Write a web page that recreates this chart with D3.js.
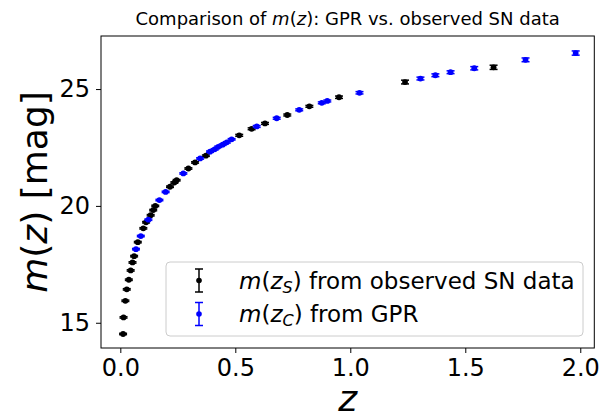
<!DOCTYPE html>
<html><head><meta charset="utf-8">
<script src="https://cdn.jsdelivr.net/npm/d3@7"></script>
<style>
body{margin:0;background:#fff}
text{font-family:"DejaVu Sans",sans-serif;fill:#000}
</style>
</head><body>
<svg id="chart" width="610" height="418"></svg>
<script>
// observed SN data (black)
const zS = [0.012, 0.014, 0.022, 0.028, 0.037, 0.045, 0.053, 0.060, 0.076, 0.100, 0.112, 0.132, 0.143, 0.152, 0.216, 0.235, 0.245, 0.296, 0.325, 0.372, 0.517, 0.571, 0.629, 0.726, 0.822, 0.951, 1.238, 1.623];
const mS = [14.52, 15.23, 15.94, 16.43, 16.84, 17.24, 17.58, 17.85, 18.45, 19.04, 19.30, 19.60, 19.82, 20.00, 20.82, 21.00, 21.10, 21.60, 21.86, 22.15, 23.02, 23.30, 23.53, 23.89, 24.26, 24.65, 25.30, 25.93];
const eS = [0.03, 0.03, 0.03, 0.03, 0.03, 0.03, 0.03, 0.03, 0.03, 0.03, 0.03, 0.03, 0.03, 0.03, 0.03, 0.03, 0.03, 0.03, 0.03, 0.03, 0.04, 0.04, 0.04, 0.04, 0.04, 0.05, 0.08, 0.09];
// GPR reconstruction (blue)
const zC = [0.068, 0.089, 0.122, 0.170, 0.197, 0.274, 0.347, 0.390, 0.410, 0.426, 0.445, 0.463, 0.484, 0.593, 0.680, 0.778, 0.876, 0.900, 1.040, 1.305, 1.370, 1.436, 1.539, 1.762, 1.980];
const mC = [18.15, 18.71, 19.41, 20.25, 20.60, 21.39, 22.03, 22.32, 22.42, 22.53, 22.62, 22.72, 22.85, 23.40, 23.75, 24.11, 24.41, 24.49, 24.84, 25.45, 25.59, 25.72, 25.89, 26.25, 26.54];
const eC = [0.03, 0.03, 0.03, 0.03, 0.03, 0.03, 0.03, 0.03, 0.03, 0.03, 0.03, 0.03, 0.03, 0.04, 0.04, 0.04, 0.04, 0.04, 0.05, 0.06, 0.06, 0.06, 0.07, 0.08, 0.09];
const xTicks = [0.0, 0.5, 1.0, 1.5, 2.0];
const yTicks = [15, 20, 25];

const svg = d3.select("#chart");
const L = 101, R = 594.3, T = 36, B = 348;
const x = d3.scaleLinear().domain([-0.084, 2.061]).range([L, R]);
const y = d3.scaleLinear().domain([13.92, 27.27]).range([B, T]);

// axes
const xa = svg.append("g").attr("transform", `translate(0,${B})`)
  .call(d3.axisBottom(x).tickValues(xTicks).tickFormat(d3.format(".1f")).tickSize(5).tickPadding(6).tickSizeOuter(0));
xa.select(".domain").remove();
xa.selectAll("text").attr("font-size", 24).attr("font-family", "DejaVu Sans").attr("fill", "#000");
xa.selectAll("line").attr("stroke", "#000").attr("stroke-width", 1);

const ya = svg.append("g").attr("transform", `translate(${L},0)`)
  .call(d3.axisLeft(y).tickValues(yTicks).tickFormat(d3.format("d")).tickSize(5).tickPadding(6).tickSizeOuter(0));
ya.select(".domain").remove();
ya.selectAll("text").attr("font-size", 24).attr("font-family", "DejaVu Sans").attr("fill", "#000");
ya.selectAll("line").attr("stroke", "#000").attr("stroke-width", 1);

function drawSeries(zs, ms, es, color) {
  const g = svg.append("g");
  const data = zs.map((z, i) => ({z, m: ms[i], e: es[i]}));
  const cap = 4;
  data.forEach(d => {
    const cx = x(d.z), y0 = y(d.m - d.e), y1 = y(d.m + d.e);
    g.append("line").attr("x1", cx).attr("x2", cx).attr("y1", y0).attr("y2", y1).attr("stroke", color).attr("stroke-width", 1.5);
    g.append("line").attr("x1", cx - cap).attr("x2", cx + cap).attr("y1", y0).attr("y2", y0).attr("stroke", color).attr("stroke-width", 1.5);
    g.append("line").attr("x1", cx - cap).attr("x2", cx + cap).attr("y1", y1).attr("y2", y1).attr("stroke", color).attr("stroke-width", 1.5);
    g.append("circle").attr("cx", cx).attr("cy", y(d.m)).attr("r", 2.9).attr("fill", color);
  });
}
drawSeries(zS, mS, eS, "#000000");
drawSeries(zC, mC, eC, "#0000ff");

// frame
svg.append("rect").attr("x", L).attr("y", T).attr("width", R - L).attr("height", B - T)
  .attr("fill", "none").attr("stroke", "#000").attr("stroke-width", 1);

// title
const title = svg.append("text").attr("x", (L + R) / 2).attr("y", 25).attr("text-anchor", "middle").attr("font-size", 18);
title.append("tspan").text("Comparison of ");
title.append("tspan").attr("font-style", "italic").text("m");
title.append("tspan").text("(");
title.append("tspan").attr("font-style", "italic").text("z");
title.append("tspan").text("): GPR vs. observed SN data");

// y label
const yl = svg.append("text").attr("transform", `translate(47,${(T + B) / 2}) rotate(-90)`).attr("text-anchor", "middle").attr("font-size", 36);
yl.append("tspan").attr("font-style", "italic").text("m");
yl.append("tspan").text("(");
yl.append("tspan").attr("font-style", "italic").text("z");
yl.append("tspan").text(") [mag]");

// x label
svg.append("text").attr("x", (L + R) / 2).attr("y", 411).attr("text-anchor", "middle").attr("font-size", 36).attr("font-style", "italic").text("z");

// legend
const lg = svg.append("g");
lg.append("rect").attr("x", 166).attr("y", 262).attr("width", 417).attr("height", 74).attr("rx", 4)
  .attr("fill", "#fff").attr("fill-opacity", 0.8).attr("stroke", "#cccccc").attr("stroke-width", 1);
const entries = [
  {color: "#000000", sub: "S", rest: " from observed SN data", cy: 280.5},
  {color: "#0000ff", sub: "C", rest: " from GPR", cy: 314}
];
entries.forEach(en => {
  const hx = 199;
  lg.append("line").attr("x1", hx).attr("x2", hx).attr("y1", en.cy - 11.5).attr("y2", en.cy + 11.5).attr("stroke", en.color).attr("stroke-width", 1.5);
  lg.append("line").attr("x1", hx - 4).attr("x2", hx + 4).attr("y1", en.cy - 11.5).attr("y2", en.cy - 11.5).attr("stroke", en.color).attr("stroke-width", 1.5);
  lg.append("line").attr("x1", hx - 4).attr("x2", hx + 4).attr("y1", en.cy + 11.5).attr("y2", en.cy + 11.5).attr("stroke", en.color).attr("stroke-width", 1.5);
  lg.append("circle").attr("cx", hx).attr("cy", en.cy).attr("r", 2.8).attr("fill", en.color);
  const t = lg.append("text").attr("x", 239).attr("y", en.cy + 8).attr("font-size", 23);
  t.append("tspan").attr("font-style", "italic").text("m");
  t.append("tspan").text("(");
  t.append("tspan").attr("font-style", "italic").text("z");
  t.append("tspan").attr("font-style", "italic").attr("font-size", 16).attr("dy", 4).text(en.sub);
  t.append("tspan").attr("dy", -4).text(")");
  t.append("tspan").text(en.rest);
});
</script>
</body></html>
